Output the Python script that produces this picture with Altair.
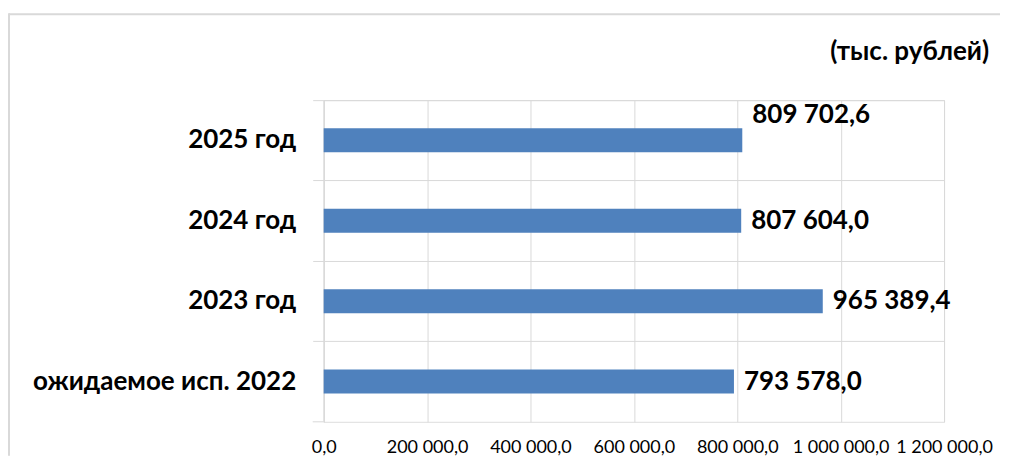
import altair as alt
import pandas as pd

categories = ["2025 год", "2024 год", "2023 год", "ожидаемое исп. 2022"]
values = [809702.6, 807604.0, 965389.4, 793578.0]
x_ticks = [0, 200000, 400000, 600000, 800000, 1000000, 1200000]
unit_label = "(тыс. рублей)"
raised_label = "2025 год"

df = pd.DataFrame({"cat": categories, "val": values})

FONT = "Lato"
GRID = "#d9d9d9"
W, H = 621, 322

y_enc = alt.Y(
    "cat:N", sort=categories, title=None,
    scale=alt.Scale(paddingInner=0, paddingOuter=0),
    axis=alt.Axis(bandPosition=0, labelFont=FONT, labelFontSize=26,
                  labelFontWeight="bold", labelColor="#000", labelPadding=17,
                  tickSize=11, tickColor=GRID, domainColor=GRID, gridColor=GRID,
                  grid=True, labelLimit=400),
)
x_enc = alt.X(
    "val:Q", title=None,
    scale=alt.Scale(domain=[0, 1200000], nice=False),
    axis=alt.Axis(values=x_ticks, format=",.1f", labelFont=FONT, labelFontSize=18,
                  labelColor="#000", ticks=False, domain=False, grid=True,
                  gridColor=GRID, labelPadding=17, labelOverlap=False,
                  labelFlush=False),
)

base = alt.Chart(df)
bars = base.mark_bar(size=24, color="#4f81bd").encode(x=x_enc, y=y_enc)

text_style = dict(align="left", baseline="middle", dx=10, font=FONT,
                  fontSize=26, fontWeight="bold", color="#000")
labels = base.transform_filter(alt.datum.cat != raised_label).mark_text(**text_style).encode(
    x="val:Q", y=alt.Y("cat:N", sort=categories),
    text=alt.Text("val:Q", format=",.1f"))
labels_up = base.transform_filter(alt.datum.cat == raised_label).mark_text(dy=-25, **text_style).encode(
    x="val:Q", y=alt.Y("cat:N", sort=categories),
    text=alt.Text("val:Q", format=",.1f"))

unit = alt.Chart(pd.DataFrame({"t": [unit_label]})).mark_text(
    align="right", baseline="middle", font=FONT, fontSize=26, fontWeight="bold", color="#000"
).encode(x=alt.value(666), y=alt.value(-48), text="t:N")

one = pd.DataFrame({"a": [0]})
bottom_tick = alt.Chart(one).mark_rule(color=GRID, strokeWidth=1).encode(
    x=alt.value(-11), x2=alt.value(0), y=alt.value(H))
frame_top = alt.Chart(one).mark_rule(color=GRID, strokeWidth=2).encode(
    x=alt.value(-315), x2=alt.value(677), y=alt.value(-86))
frame_left = alt.Chart(one).mark_rule(color=GRID, strokeWidth=2).encode(
    x=alt.value(-315), y=alt.value(-87), y2=alt.value(356))

chart = alt.layer(bars, labels, labels_up, unit, bottom_tick, frame_top, frame_left).properties(
    width=W, height=H,
    padding={"left": 0, "top": 4, "right": 0, "bottom": 0},
).configure_view(
    fill="#f0f0f0", stroke=GRID
).configure(
    locale={"number": {"decimal": ",", "thousands": "\u00a0", "grouping": [3],
                        "currency": ["", ""]}}
)

chart.save("out.html", embed_options={"renderer": "svg", "actions": False})
